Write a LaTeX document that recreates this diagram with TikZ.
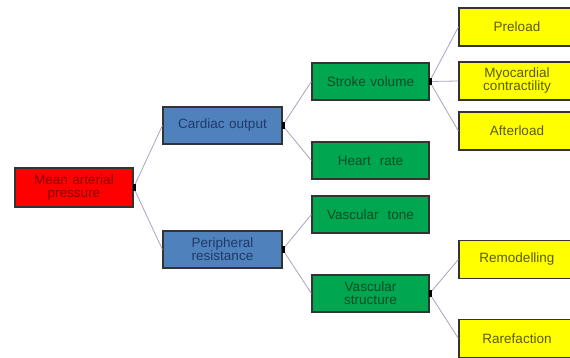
\documentclass[tikz,border=0pt]{standalone}
\usepackage{fontspec}
\setmainfont{Liberation Sans}
\definecolor{redfill}{HTML}{FF0000}
\definecolor{bluefill}{HTML}{4F81BD}
\definecolor{greenfill}{HTML}{00A650}
\definecolor{yellowfill}{HTML}{FFFF00}
\definecolor{redtxt}{HTML}{8A0000}
\definecolor{bluetxt}{HTML}{1F3A68}
\definecolor{greentxt}{HTML}{0B4D24}
\definecolor{yellowtxt}{HTML}{5A5A00}
\definecolor{linkc}{HTML}{ABA3BE}
\begin{document}
\begin{tikzpicture}[x=1pt,y=-1pt,
  box/.style={draw=black!80,line width=1.2pt,inner sep=1pt,align=center,
    font=\fontsize{13.5}{13}\selectfont},
  redbox/.style={box,fill=redfill,text=redtxt,minimum width=118pt,minimum height=39pt,text width=110pt},
  bluebox/.style={box,fill=bluefill,text=bluetxt,minimum width=119pt,minimum height=37pt,text width=110pt},
  greenbox/.style={box,fill=greenfill,text=greentxt,minimum width=117pt,minimum height=37pt,text width=110pt},
  yellowbox/.style={box,fill=yellowfill,text=yellowtxt,minimum width=116pt,minimum height=38pt,text width=110pt},
  link/.style={draw=linkc,line width=0.8pt},
  handle/.style={fill=black,draw=none,minimum width=3pt,minimum height=7pt,inner sep=0pt}
]
\useasboundingbox (0,0) rectangle (570,358);
\clip (0,0) rectangle (570,358);
\fill[white] (0,0) rectangle (570,358);

\node[redbox] (map) at (74,187.5) {Mean arterial\\pressure};
\node[bluebox] (co) at (222.5,125.5) {Cardiac output};
\node[bluebox] (pr) at (222.5,249.5) {Peripheral\\resistance};
\node[greenbox] (sv) at (370.5,81.5) {Stroke volume};
\node[greenbox] (hr) at (370.5,160.5) {Heart~~rate};
\node[greenbox] (vt) at (370.5,214.5) {Vascular~~tone};
\node[greenbox] (vs) at (370.5,293.5) {Vascular\\structure};
\node[yellowbox] (pre) at (517,27) {Preload};
\node[yellowbox] (myo) at (517,81) {Myocardial\\contractility};
\node[yellowbox] (aft) at (517,131) {Afterload};
\node[yellowbox] (rem) at (517,259.5) {Remodelling};
\node[yellowbox] (rar) at (517,338.5) {Rarefaction};

\foreach \p/\c in {map/co,map/pr,co/sv,co/hr,pr/vt,pr/vs,sv/pre,sv/myo,sv/aft,vs/rem,vs/rar}
  \draw[link] (\p.east) -- (\c.west);

\foreach \p in {map,co,pr,sv,vs}
  \node[handle] (h\p) at ([xshift=1pt]\p.east) {};
\end{tikzpicture}
\end{document}
